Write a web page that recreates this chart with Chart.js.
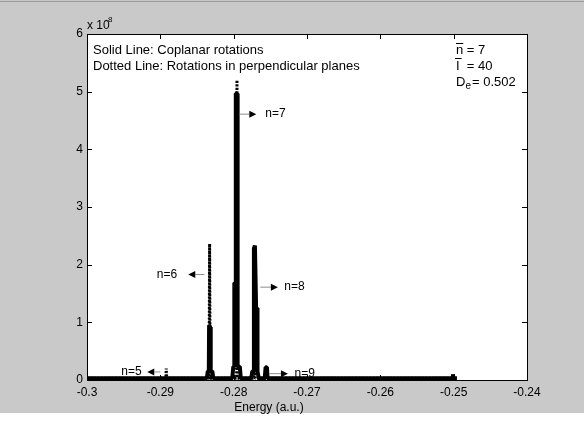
<!DOCTYPE html>
<html>
<head>
<meta charset="utf-8">
<script src="https://cdn.jsdelivr.net/npm/chart.js@4.4.0/dist/chart.umd.min.js"></script>
<style>
  html, body { margin: 0; padding: 0; background: #ffffff; }
  canvas { display: block; }
</style>
</head>
<body>
<canvas id="spectrum" width="584" height="422"></canvas>
<script>
// values (intensity in units of 1e8)
const solidEnergy = [-0.3, -0.28366, -0.28353, -0.28339, -0.28335, -0.28321, -0.28316, -0.28310, -0.28291, -0.28278,
    -0.28019, -0.28005, -0.27994, -0.27991, -0.27975, -0.27971, -0.27953, -0.27946, -0.27916, -0.27903,
    -0.27760, -0.27746, -0.27732, -0.27724, -0.27710, -0.27694, -0.27680, -0.27675, -0.27657,
    -0.27576, -0.27565, -0.27546, -0.27538,
    -0.25015, -0.25010, -0.25005, -0.24955];
const solidIntensity = [0.03, 0.03, 0.15, 0.15, 0.95, 0.92, 0.8, 0.15, 0.15, 0.03,
    0.03, 0.23, 0.23, 1.68, 1.68, 4.97, 4.97, 0.23, 0.23, 0.03,
    0.03, 0.15, 0.15, 2.28, 2.33, 1.25, 1.25, 0.15, 0.03,
    0.03, 0.22, 0.22, 0.03,
    0.03, 0.1, 0.03, 0.03];

const dottedEnergy = [-0.3, -0.28925, -0.28919, -0.28913, -0.28335, -0.28328, -0.28321,
    -0.27960, -0.27955, -0.27950, -0.27724, -0.27715, -0.27706, -0.25];
const dottedIntensity = [0.03, 0.03, 0.2, 0.03, 0.03, 2.36, 0.03,
    0.03, 5.2, 0.03, 0.03, 2.3, 0.03, 0.03];

const xTicks = [-0.3, -0.29, -0.28, -0.27, -0.26, -0.25, -0.24];
const xTickLabels = ['-0.3', '-0.29', '-0.28', '-0.27', '-0.26', '-0.25', '-0.24'];
const yTicks = [0, 1, 2, 3, 4, 5, 6];
const yTickLabels = ['0', '1', '2', '3', '4', '5', '6'];

// peak labels: text position, arrow tail and tip (energy), height
const peakLabels = ['n=5', 'n=6', 'n=7', 'n=8', 'n=9'];
const peakTextEnergy = [-0.29532, -0.29048, -0.27568, -0.27310, -0.27169];
const peakArrowTail = [-0.29000, -0.28400, -0.27919, -0.27637, -0.27514];
const peakArrowTip = [-0.29178, -0.28619, -0.27691, -0.27397, -0.27260];
const peakHeight = [0.14, 1.83, 4.61, 1.61, 0.11];

const FONT = '"Liberation Sans", Arial, Helvetica, sans-serif';

function toPoints(xs, ys) {
    return xs.map((x, i) => ({ x: x, y: ys[i] }));
}

const matlabDecor = {
    id: 'matlabDecor',
    beforeDraw(chart) {
        const ctx = chart.ctx;
        const a = chart.chartArea;
        ctx.save();
        ctx.fillStyle = '#c9c9c9';
        ctx.fillRect(0, 0, chart.width, chart.height);
        ctx.fillStyle = '#ffffff';
        ctx.fillRect(0, 413, chart.width, chart.height - 413);
        ctx.fillStyle = '#9a9a9a';
        ctx.fillRect(0, 1, chart.width, 1);
        ctx.fillStyle = '#ffffff';
        ctx.fillRect(a.left, a.top, a.right - a.left, a.bottom - a.top);
        ctx.restore();
    },
    afterDatasetsDraw(chart) {
        const ctx = chart.ctx;
        const a = chart.chartArea;
        const xs = chart.scales.x;
        const ys = chart.scales.y;
        ctx.save();

        // box and inward ticks
        ctx.strokeStyle = '#000000';
        ctx.lineWidth = 1;
        ctx.strokeRect(Math.round(a.left) + 0.5, Math.round(a.top) + 0.5,
            Math.round(a.right - a.left), Math.round(a.bottom - a.top));
        ctx.beginPath();
        xTicks.forEach(v => {
            const px = Math.round(xs.getPixelForValue(v)) + 0.5;
            ctx.moveTo(px, a.bottom); ctx.lineTo(px, a.bottom - 5);
            ctx.moveTo(px, a.top); ctx.lineTo(px, a.top + 5);
        });
        yTicks.forEach(v => {
            const py = Math.round(ys.getPixelForValue(v)) + 0.5;
            ctx.moveTo(a.left, py); ctx.lineTo(a.left + 5, py);
            ctx.moveTo(a.right, py); ctx.lineTo(a.right - 5, py);
        });
        ctx.stroke();

        // peak labels with arrows
        ctx.font = '12px ' + FONT;
        ctx.textBaseline = 'middle';
        ctx.textAlign = 'left';
        peakLabels.forEach((lab, i) => {
            const py = ys.getPixelForValue(peakHeight[i]);
            const tail = xs.getPixelForValue(peakArrowTail[i]);
            const tip = xs.getPixelForValue(peakArrowTip[i]);
            const dir = tip > tail ? 1 : -1;
            const base = tip - dir * 7;
            ctx.strokeStyle = '#8c8c8c';
            ctx.beginPath();
            ctx.moveTo(tail, py);
            ctx.lineTo(base, py);
            ctx.stroke();
            ctx.fillStyle = '#000000';
            ctx.beginPath();
            ctx.moveTo(tip, py);
            ctx.lineTo(base, py - 3.5);
            ctx.lineTo(base, py + 3.5);
            ctx.closePath();
            ctx.fill();
            ctx.fillText(lab, xs.getPixelForValue(peakTextEnergy[i]), py);
        });

        // legend-like notes
        ctx.font = '13px ' + FONT;
        ctx.fillStyle = '#000000';
        ctx.fillText('Solid Line: Coplanar rotations', 93, 50);
        ctx.fillText('Dotted Line: Rotations in perpendicular planes', 93, 66);

        // parameters, top right
        const px0 = 456;
        const nW = ctx.measureText('n').width;
        ctx.fillText('n', px0, 50);
        ctx.fillText(' = 7', px0 + nW, 50);
        ctx.fillRect(px0, 43, nW, 1);
        const iW = ctx.measureText('I').width;
        ctx.fillText('I', px0, 66);
        ctx.fillText('  = 40', px0 + iW, 66);
        ctx.fillRect(px0 - 1, 58, iW + 3, 1);
        const dW = ctx.measureText('D').width;
        ctx.fillText('D', px0, 82);
        ctx.font = '10px ' + FONT;
        ctx.fillText('e', px0 + dW, 86);
        const eW = ctx.measureText('e').width;
        ctx.font = '13px ' + FONT;
        ctx.fillText('= 0.502', px0 + dW + eW + 1, 82);

        // exponent label
        ctx.font = '12px ' + FONT;
        ctx.textBaseline = 'alphabetic';
        ctx.fillText('x 10', 87, 29);
        ctx.font = '8px ' + FONT;
        ctx.fillText('8', 108, 22);

        // x axis title
        ctx.font = '12px ' + FONT;
        ctx.textAlign = 'center';
        ctx.textBaseline = 'middle';
        ctx.fillText('Energy (a.u.)', 269, 408);
        ctx.restore();
    }
};

const ctx = document.getElementById('spectrum').getContext('2d');
const spectrumChart = new Chart(ctx, {
    type: 'line',
    data: {
        datasets: [{
            label: 'Coplanar rotations',
            data: toPoints(solidEnergy, solidIntensity),
            borderColor: '#000000',
            borderWidth: 4,
            borderJoinStyle: 'bevel',
            borderCapStyle: 'butt',
            pointRadius: 0,
            tension: 0,
            fill: false
        }, {
            label: 'Rotations in perpendicular planes',
            data: toPoints(dottedEnergy, dottedIntensity),
            borderColor: '#000000',
            borderWidth: 3,
            borderDash: [2, 1.5],
            borderJoinStyle: 'bevel',
            pointRadius: 0,
            tension: 0,
            fill: false
        }]
    },
    options: {
        responsive: false,
        animation: false,
        devicePixelRatio: 1,
        layout: { padding: { left: 0, right: 57, top: 34, bottom: 0 } },
        plugins: {
            legend: { display: false },
            tooltip: { enabled: false }
        },
        scales: {
            x: {
                type: 'linear',
                min: -0.3,
                max: -0.24,
                grid: { display: false, drawTicks: false },
                border: { display: false },
                afterBuildTicks: s => { s.ticks = xTicks.map(v => ({ value: v })); },
                afterFit: s => { s.height = 42; },
                ticks: {
                    color: '#000000',
                    padding: 5,
                    maxRotation: 0,
                    autoSkip: false,
                    font: { family: FONT, size: 12 },
                    callback: (v, i) => xTickLabels[i]
                }
            },
            y: {
                min: 0,
                max: 6,
                grid: { display: false, drawTicks: false },
                border: { display: false },
                afterBuildTicks: s => { s.ticks = yTicks.map(v => ({ value: v })); },
                afterFit: s => { s.width = 87; },
                ticks: {
                    color: '#000000',
                    padding: 4,
                    autoSkip: false,
                    font: { family: FONT, size: 12 },
                    callback: (v, i) => yTickLabels[i]
                }
            }
        }
    },
    plugins: [matlabDecor]
});
</script>
</body>
</html>
